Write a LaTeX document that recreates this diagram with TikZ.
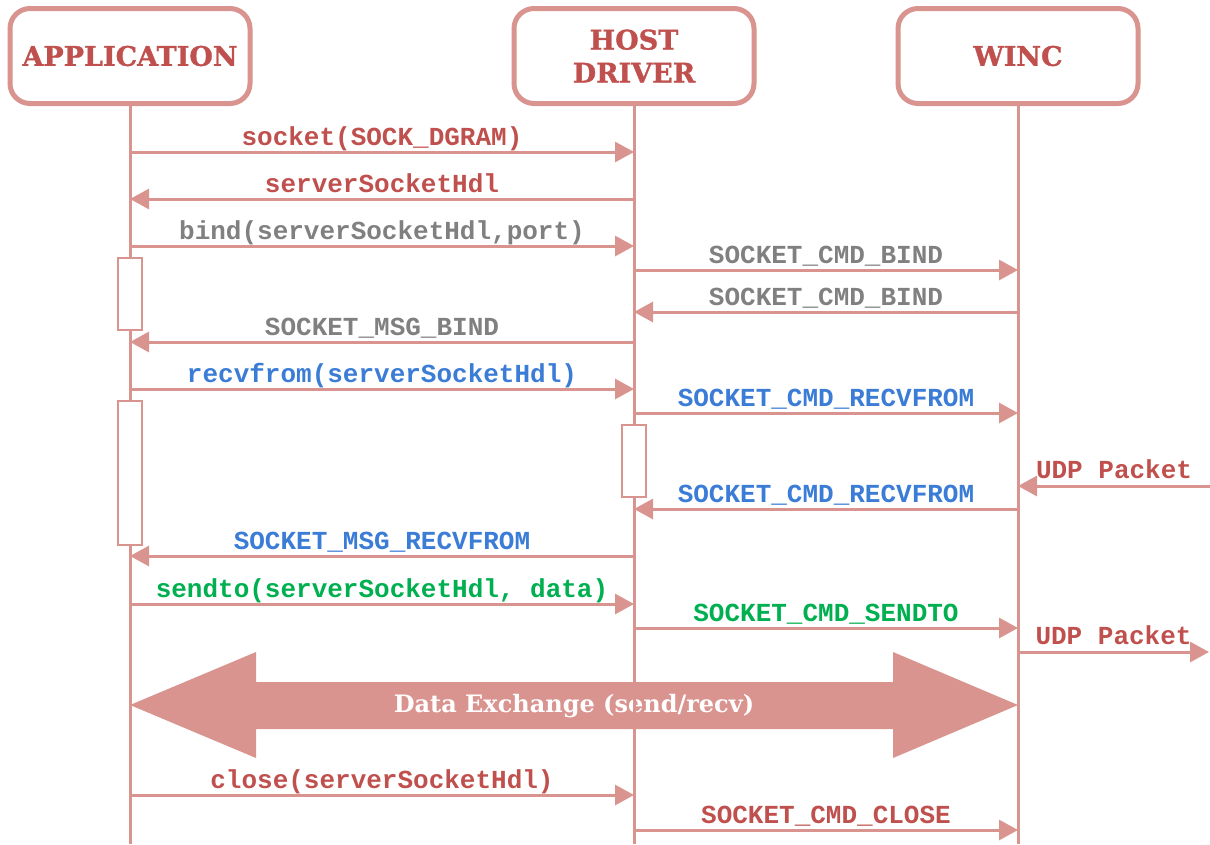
\documentclass[tikz,border=0pt]{standalone}
\usepackage{fontspec}
\setmainfont{DejaVu Serif}
\setmonofont{Liberation Mono}
\newfontfamily\titlefont[BoldFeatures={FakeBold=1.2}]{DejaVu Serif}
\usetikzlibrary{arrows.meta}
\definecolor{linepink}{RGB}{217,148,144}
\definecolor{titlered}{RGB}{192,80,77}
\definecolor{msggray}{RGB}{128,128,128}
\definecolor{msgblue}{RGB}{58,124,214}
\definecolor{msggreen}{RGB}{0,176,80}
\begin{document}
\begin{tikzpicture}[x=1pt,y=-1pt,
  actor/.style={draw=linepink,line width=5pt,rounded corners=20pt,fill=white,minimum width=240pt,minimum height=95pt,align=center,text=titlered,font=\titlefont\fontsize{27}{33}\selectfont\bfseries},
  life/.style={draw=linepink,line width=3pt},
  msg/.style={draw=linepink,line width=3pt,-{Triangle[length=19pt,width=20pt]}},
  lbl/.style={font=\fontsize{26}{26}\selectfont\ttfamily\bfseries,anchor=base,yshift=7pt,inner sep=0pt},
  act/.style={draw=linepink,line width=2.8pt,fill=white,minimum width=24pt,inner sep=0pt}]
\useasboundingbox (0,0) rectangle (1210,844);
%\draw[step=50,gray,very thin] (0,0) grid (1210,844);
\node[actor] (app) at (130,56) {APPLICATION};
\node[actor] (host) at (634,56) {HOST\\DRIVER};
\node[actor] (winc) at (1018,56) {WINC};
% data exchange band
\fill[linepink] (app |- 0,705) -- (256,652) -- (256,682) -- (893,682) -- (893,652) -- (winc |- 0,705)
  -- (893,758) -- (893,729) -- (256,729) -- (256,758) -- cycle;
\node[text=white,font=\fontsize{24}{24}\selectfont\bfseries] (xchg) at (574,706) {Data Exchange (send/recv)};
\draw[life] (app.south) -- (app |- 0,844);
\draw[life] (host.south) -- (host |- 0,844);
\draw[life] (winc.south) -- (winc |- 0,844);
% activations
\node[act,minimum height=72pt] (wait1) at (app |- 0,294) {};
\node[act,minimum height=144pt] (wait2) at (app |- 0,473) {};
\node[act,minimum height=72pt] (wait3) at (host |- 0,461) {};
% messages
\draw[msg] (app |- 0,152) -- (host |- 0,152) node[lbl,midway,text=titlered] {socket(SOCK\_DGRAM)};
\draw[msg] (host |- 0,199) -- (app |- 0,199) node[lbl,midway,text=titlered] {serverSocketHdl};
\draw[msg] (app |- 0,246) -- (host |- 0,246) node[lbl,midway,text=msggray] {bind(serverSocketHdl,port)};
\draw[msg] (host |- 0,270) -- (winc |- 0,270) node[lbl,midway,text=msggray] {SOCKET\_CMD\_BIND};
\draw[msg] (winc |- 0,312) -- (host |- 0,312) node[lbl,midway,text=msggray] {SOCKET\_CMD\_BIND};
\draw[msg] (host |- 0,342) -- (app |- 0,342) node[lbl,midway,text=msggray] {SOCKET\_MSG\_BIND};
\draw[msg] (app |- 0,389) -- (host |- 0,389) node[lbl,midway,text=msgblue] {recvfrom(serverSocketHdl)};
\draw[msg] (host |- 0,413) -- (winc |- 0,413) node[lbl,midway,text=msgblue] {SOCKET\_CMD\_RECVFROM};
\coordinate (udpin) at (1210,486);
\draw[msg] (udpin) -- (winc |- udpin) node[lbl,midway,yshift=1pt,text=titlered] {UDP Packet};
\draw[msg] (winc |- 0,509) -- (host |- 0,509) node[lbl,midway,text=msgblue] {SOCKET\_CMD\_RECVFROM};
\draw[msg] (host |- 0,556) -- (app |- 0,556) node[lbl,midway,text=msgblue] {SOCKET\_MSG\_RECVFROM};
\draw[msg] (app |- 0,604) -- (host |- 0,604) node[lbl,midway,text=msggreen] {sendto(serverSocketHdl, data)};
\draw[msg] (host |- 0,628) -- (winc |- 0,628) node[lbl,midway,text=msggreen] {SOCKET\_CMD\_SENDTO};
\coordinate (udpout) at (1209,652);
\draw[msg] (winc |- udpout) -- (udpout) node[lbl,midway,yshift=1pt,text=titlered] {UDP Packet};
\draw[msg] (app |- 0,795) -- (host |- 0,795) node[lbl,midway,text=titlered] {close(serverSocketHdl)};
\draw[msg] (host |- 0,830) -- (winc |- 0,830) node[lbl,midway,text=titlered] {SOCKET\_CMD\_CLOSE};
\end{tikzpicture}
\end{document}
